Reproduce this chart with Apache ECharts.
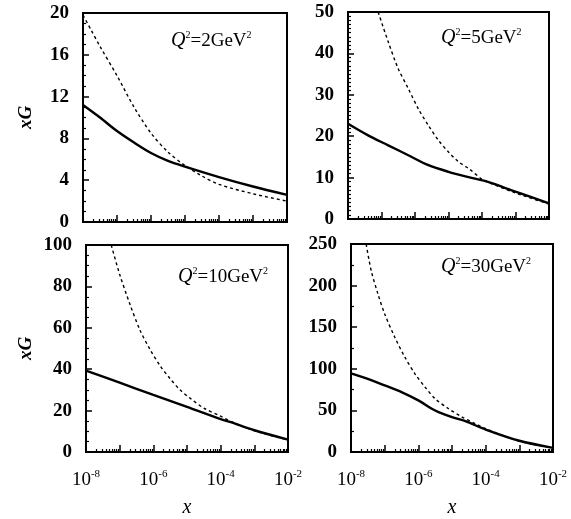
<!DOCTYPE html>
<html>
<head>
<meta charset="utf-8">
<script src="https://cdn.jsdelivr.net/npm/echarts@6.0.0/dist/echarts.min.js"></script>
<style>
  html, body { margin: 0; padding: 0; background: #fff; }
  #main { width: 571px; height: 519px; }
</style>
</head>
<body>
<div id="main"></div>
<script>
// x positions are read as powers of ten (exponent of x)
// Q^2 = 2 GeV^2
var q2Exp = [-8, -7.5, -7, -6.5, -6, -5.5, -5, -4, -3, -2];
var q2Solid = [11.2, 10.0, 8.7, 7.6, 6.6, 5.85, 5.3, 4.3, 3.4, 2.6];
var q2DashExp = [-8, -7.75, -7.5, -7, -6.5, -6, -5.5, -5, -4.5, -4, -3, -2];
var q2Dash = [19.8, 18.3, 16.8, 14.0, 11.0, 8.5, 6.7, 5.4, 4.4, 3.6, 2.7, 2.0];

// Q^2 = 5 GeV^2
var q5Exp = [-8, -7.4, -6.8, -6.2, -5.6, -5, -4.4, -3.8, -3, -2];
var q5Solid = [23.0, 20.2, 17.8, 15.4, 13.0, 11.4, 10.1, 8.9, 6.6, 3.8];
var q5DashExp = [-7.1, -6.8, -6.5, -6.2, -5.9, -5.6, -5.3, -5, -4.7, -4.4, -4, -3.8, -3, -2];
var q5Dash = [50, 42.8, 36.3, 31.5, 26.6, 22.6, 19.0, 16.2, 13.8, 12.2, 9.6, 8.8, 6.3, 3.6];

// Q^2 = 10 GeV^2
var q10Exp = [-8, -7, -6, -5, -4, -3.7, -3, -2];
var q10Solid = [39.3, 33.5, 27.6, 21.8, 15.9, 14.4, 10.5, 6.0];
var q10DashExp = [-7.25, -7, -6.7, -6.4, -6.1, -5.8, -5.5, -5.2, -4.9, -4.5, -4, -3.7, -3, -2];
var q10Dash = [100, 85.8, 71.6, 59, 49.6, 41.7, 35.4, 29.9, 25.9, 21.2, 17.3, 14.8, 10.3, 5.8];

// Q^2 = 30 GeV^2
var q30Exp = [-8, -7.5, -7, -6.5, -6, -5.6, -5.4, -5, -4.6, -4, -3, -2];
var q30Solid = [94.6, 88, 80, 72, 62, 52, 48, 42, 37, 27, 13.5, 5];
var q30DashExp = [-7.55, -7.4, -7.2, -7, -6.7, -6.4, -6.1, -5.8, -5.5, -5.1, -4.7, -4.3, -4, -3, -2];
var q30Dash = [250, 218, 190, 166, 138, 114, 94, 78, 64, 52, 42, 34, 28, 13, 4.8];

// y axis ranges / tick steps per panel
var yMax = [20, 50, 100, 250];
var yStep = [4, 10, 20, 50];
var yMinor = [4, 10, 4, 2];
var panelLabels = ['2', '5', '10', '30'];

var serif = 'Liberation Serif';

function pairs(exps, vals) {
  var out = [];
  for (var i = 0; i < exps.length; i++) {
    out.push([Math.pow(10, exps[i]), vals[i]]);
  }
  return out;
}

var boxes = [
  { left: 83, top: 13, width: 204, height: 209 },
  { left: 348, top: 12, width: 201, height: 207 },
  { left: 86, top: 245, width: 202, height: 211 },
  { left: 351, top: 244, width: 202, height: 208 }
];
var titlePos = [[166, 25], [436, 22], [173, 261], [436, 251]];
var lines = [
  [pairs(q2Exp, q2Solid), pairs(q2DashExp, q2Dash)],
  [pairs(q5Exp, q5Solid), pairs(q5DashExp, q5Dash)],
  [pairs(q10Exp, q10Solid), pairs(q10DashExp, q10Dash)],
  [pairs(q30Exp, q30Solid), pairs(q30DashExp, q30Dash)]
];

var grids = [], xAxes = [], yAxes = [], series = [], titles = [];

for (var p = 0; p < 4; p++) {
  var b = boxes[p];
  var bottomRow = p >= 2;
  var leftCol = (p % 2) === 0;

  grids.push({
    left: b.left, top: b.top, width: b.width, height: b.height,
    show: true, borderColor: '#000', borderWidth: 2, backgroundColor: 'transparent'
  });

  xAxes.push({
    type: 'log', logBase: 10, gridIndex: p,
    min: 1e-8, max: 1e-2,
    name: bottomRow ? 'x' : '',
    nameLocation: 'middle', nameGap: 46,
    nameTextStyle: { fontFamily: serif, fontStyle: 'italic', fontSize: 20, color: '#000' },
    axisLine: { show: true, lineStyle: { color: '#000', width: 2 } },
    axisTick: { show: true, inside: true, length: 7, lineStyle: { color: '#000', width: 1.5 } },
    minorTick: { show: true, splitNumber: 9, length: 3, lineStyle: { color: '#000', width: 1.2 } },
    splitLine: { show: false },
    axisLabel: {
      show: bottomRow, margin: 17, color: '#000',
      formatter: function (v) {
        var e = Math.round(Math.log10(v));
        if (e % 2 !== 0) return '';
        return '{b|10}{s|' + e + '}';
      },
      rich: {
        b: { fontFamily: serif, fontSize: 19, lineHeight: 22, color: '#000' },
        s: { fontFamily: serif, fontSize: 11, lineHeight: 11, verticalAlign: 'top', color: '#000' }
      }
    }
  });

  yAxes.push({
    type: 'value', gridIndex: p,
    min: 0, max: yMax[p], interval: yStep[p],
    name: leftCol ? 'xG' : '',
    nameLocation: 'middle', nameGap: leftCol ? (p === 0 ? 47 : 50) : 0,
    nameTextStyle: { fontFamily: serif, fontStyle: 'italic', fontWeight: 'bold', fontSize: 19, color: '#000' },
    axisLine: { show: true, lineStyle: { color: '#000', width: 2 } },
    axisTick: { show: true, inside: true, length: 6, lineStyle: { color: '#000', width: 1.5 } },
    minorTick: { show: true, splitNumber: yMinor[p], length: 3, lineStyle: { color: '#000', width: 1.2 } },
    splitLine: { show: false },
    axisLabel: {
      margin: 14, color: '#000',
      fontFamily: serif, fontWeight: 'bold', fontSize: 19
    }
  });

  series.push({
    type: 'line', xAxisIndex: p, yAxisIndex: p,
    data: lines[p][0], showSymbol: false, smooth: 0.3,
    lineStyle: { color: '#000', width: 2.4 }
  });
  series.push({
    type: 'line', xAxisIndex: p, yAxisIndex: p,
    data: lines[p][1], showSymbol: false, smooth: 0.3,
    lineStyle: { color: '#000', width: 1.4, type: [3, 3] }
  });

  titles.push({
    text: '{q|Q}{s|2}{n|=' + panelLabels[p] + 'GeV}{s|2}',
    left: titlePos[p][0], top: titlePos[p][1],
    textStyle: {
      fontWeight: 'normal',
      rich: {
        q: { fontFamily: serif, fontStyle: 'italic', fontWeight: 'normal', fontSize: 20, lineHeight: 22, color: '#000' },
        n: { fontFamily: serif, fontWeight: 'normal', fontSize: 19, lineHeight: 22, color: '#000' },
        s: { fontFamily: serif, fontWeight: 'normal', fontSize: 10, lineHeight: 10, verticalAlign: 'top', color: '#000' }
      }
    }
  });
}

var myChart = echarts.init(document.getElementById('main'));
myChart.setOption({
  backgroundColor: '#fff',
  animation: false,
  title: titles,
  grid: grids,
  xAxis: xAxes,
  yAxis: yAxes,
  series: series
});
</script>
</body>
</html>
